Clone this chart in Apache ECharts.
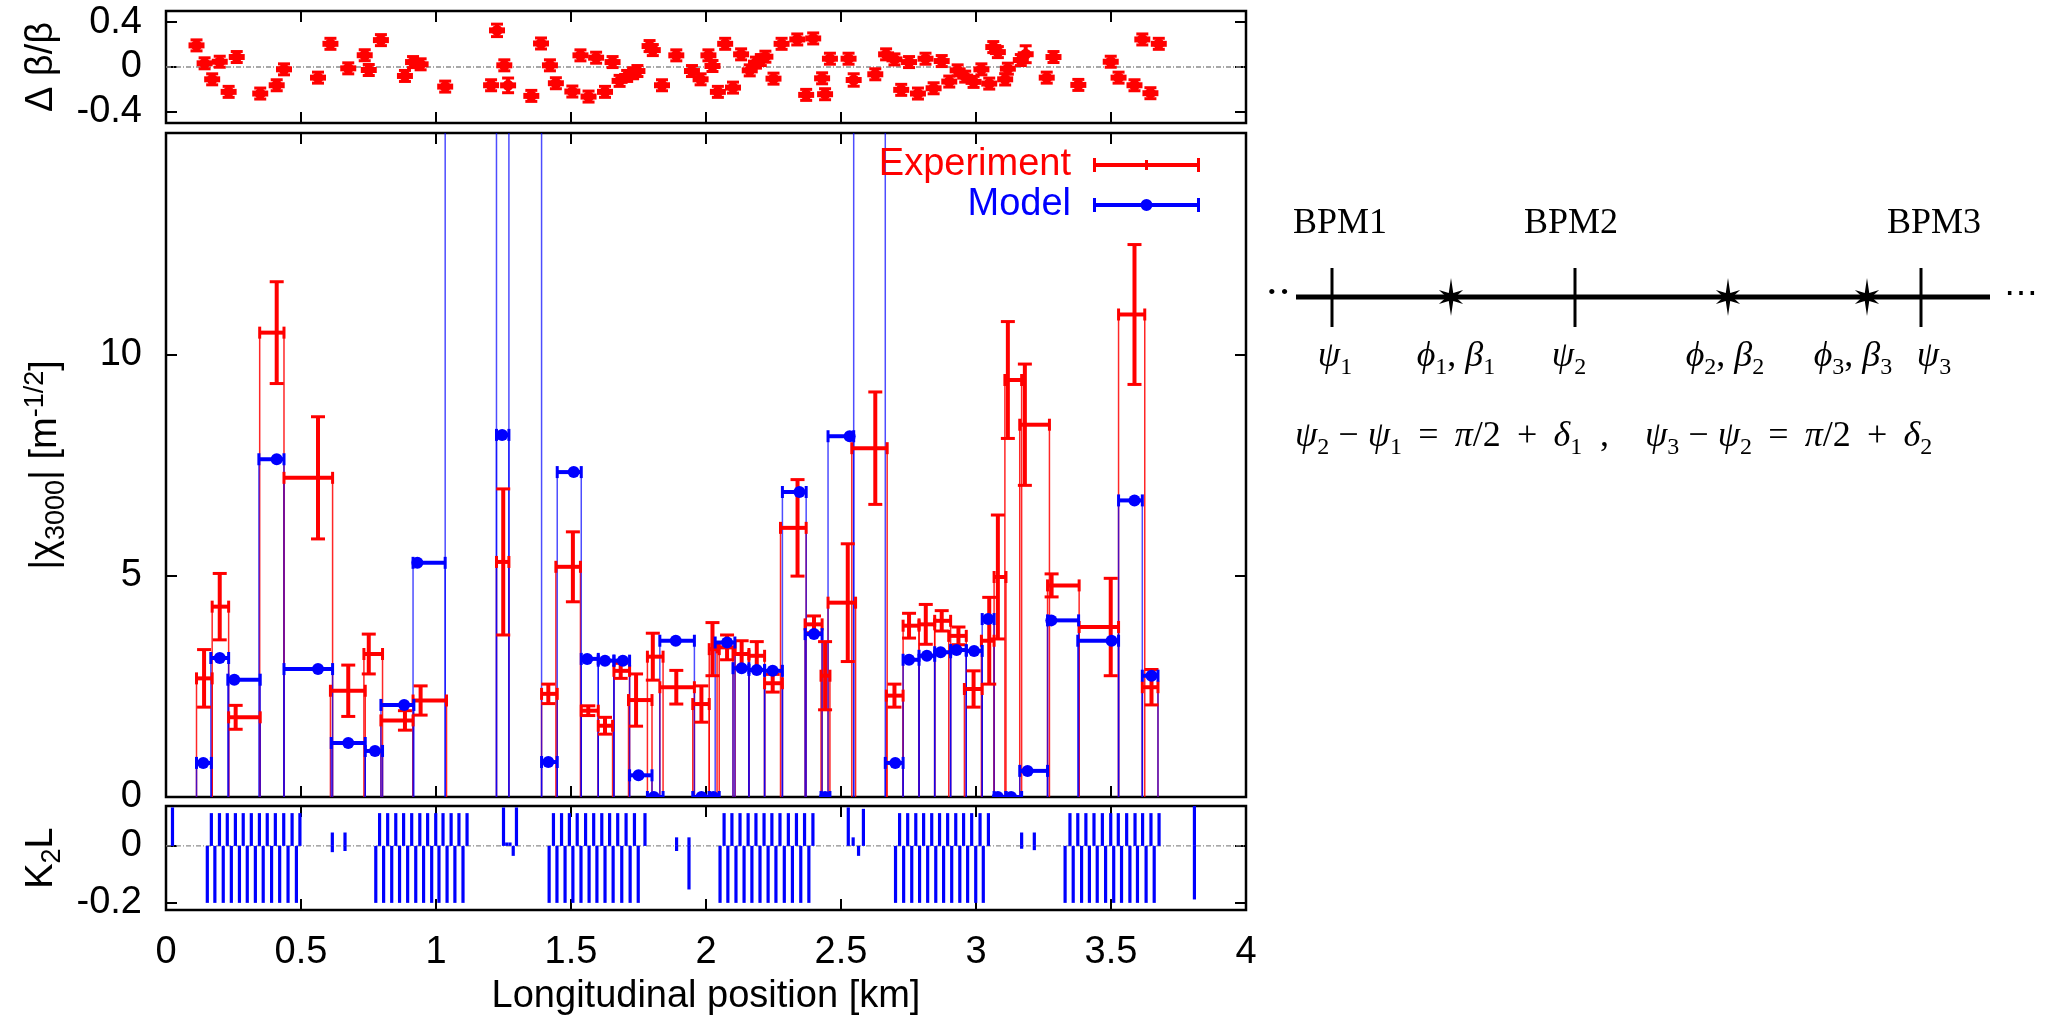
<!DOCTYPE html>
<html>
<head>
<meta charset="utf-8">
<script src="https://cdn.jsdelivr.net/npm/echarts@6/dist/echarts.min.js"></script>
<style>
  html, body { margin: 0; padding: 0; background: #ffffff; }
  #chart { width: 2050px; height: 1018px; }
</style>
</head>
<body>
<div id="chart"></div>
<script>
// ---------- Beta beating at the BPMs (top panel) ----------
const betaPos = [0.113,0.143,0.171,0.199,0.232,0.262,0.349,0.410,0.437,0.563,
  0.609,0.675,0.736,0.751,0.796,0.885,0.915,0.943,1.034,1.204,
  1.226,1.253,1.267,1.353,1.389,1.422,1.444,1.505,1.535,1.565,
  1.593,1.626,1.654,1.680,1.708,1.730,1.746,1.791,1.803,1.837,
  1.890,1.948,1.980,2.009,2.024,2.044,2.071,2.100,2.130,2.162,
  2.185,2.203,2.220,2.250,2.280,2.338,2.371,2.397,2.430,2.441,
  2.459,2.528,2.547,2.627,2.667,2.698,2.723,2.752,2.785,2.813,
  2.843,2.873,2.901,2.932,2.960,2.991,3.020,3.049,3.064,3.081,
  3.108,3.118,3.166,3.184,3.262,3.287,3.379,3.499,3.528,3.587,
  3.616,3.646,3.677];
const betaVal = [0.193,0.033,-0.110,0.047,-0.222,0.089,-0.237,-0.163,-0.021,-0.095,
  0.207,-0.012,0.105,-0.027,0.240,-0.080,0.044,0.024,-0.175,-0.163,
  0.327,0.015,-0.164,-0.258,0.210,0.015,-0.145,-0.219,0.104,-0.264,
  0.083,-0.222,0.044,-0.124,-0.080,-0.056,-0.036,0.187,0.151,-0.163,
  0.104,-0.036,-0.110,0.104,0.009,-0.222,0.207,-0.184,0.113,-0.030,
  0.039,0.062,0.092,-0.104,0.207,0.246,-0.249,0.255,-0.101,-0.243,
  0.074,0.074,-0.116,-0.065,0.113,0.068,-0.204,0.044,-0.237,0.074,
  -0.190,0.053,-0.130,-0.030,-0.086,-0.133,-0.021,-0.148,0.178,0.133,
  -0.110,-0.015,0.062,0.114,-0.095,0.089,-0.160,0.047,-0.095,-0.163,
  0.246,-0.234,0.207];
const betaErr = [0.02,0.02,0.02,0.02,0.02,0.02,0.02,0.02,0.02,0.02,
  0.02,0.02,0.052,0.02,0.02,0.02,0.02,0.02,0.02,0.02,
  0.06,0.02,0.07,0.02,0.02,0.02,0.02,0.02,0.02,0.02,
  0.02,0.02,0.02,0.02,0.02,0.02,0.02,0.02,0.02,0.02,
  0.02,0.02,0.02,0.02,0.02,0.02,0.02,0.02,0.02,0.02,
  0.02,0.02,0.02,0.02,0.02,0.02,0.02,0.02,0.02,0.02,
  0.02,0.02,0.06,0.02,0.02,0.02,0.02,0.02,0.02,0.02,
  0.02,0.02,0.02,0.02,0.02,0.02,0.02,0.02,0.02,0.02,
  0.055,0.02,0.02,0.08,0.02,0.02,0.02,0.02,0.02,0.02,
  0.02,0.02,0.02];

// ---------- |chi_3000| per BPM interval (middle panel) ----------
// measurement: interval start/end, sextupole position, value, error
const expLo  = [0.113,0.171,0.232,0.347,0.437,0.609,0.733,0.796,0.915,1.224,
  1.391,1.444,1.538,1.601,1.659,1.713,1.783,1.829,1.951,2.012,
  2.041,2.100,2.159,2.217,2.276,2.367,2.426,2.452,2.540,2.668,
  2.730,2.789,2.847,2.899,2.957,3.020,3.067,3.107,3.162,3.265,
  3.382,3.528,3.616];
const expHi  = [0.171,0.232,0.349,0.437,0.617,0.738,0.802,0.915,1.039,1.270,
  1.449,1.535,1.601,1.654,1.717,1.800,1.841,1.957,2.012,2.049,
  2.108,2.159,2.217,2.283,2.371,2.430,2.459,2.554,2.671,2.730,
  2.789,2.847,2.906,2.964,3.023,3.067,3.111,3.169,3.272,3.382,
  3.528,3.625,3.674];
const expAt  = [0.141,0.199,0.258,0.410,0.563,0.675,0.751,0.885,0.943,1.249,
  1.416,1.507,1.564,1.626,1.684,1.741,1.803,1.890,1.983,2.024,
  2.078,2.132,2.188,2.247,2.339,2.400,2.441,2.525,2.627,2.698,
  2.752,2.814,2.873,2.935,2.991,3.049,3.081,3.118,3.181,3.280,
  3.499,3.587,3.650];
const expVal = [2.68,4.30,1.80,10.49,7.21,2.40,3.23,1.73,2.18,5.31,
  2.33,5.20,1.95,1.61,2.85,2.19,3.17,2.48,2.10,3.34,
  3.38,3.23,3.19,2.57,6.08,3.90,2.74,4.39,7.88,2.29,
  3.87,3.90,3.98,3.64,2.44,3.53,4.97,9.42,8.41,4.78,
  3.84,10.90,2.48];
const expErr = [0.65,0.75,0.27,1.15,1.38,0.58,0.45,0.22,0.33,1.65,
  0.22,0.79,0.11,0.19,0.17,0.59,0.53,0.38,0.41,0.60,
  0.28,0.30,0.32,0.20,1.09,0.19,0.77,1.33,1.27,0.26,
  0.28,0.45,0.23,0.20,0.41,0.98,1.40,1.32,1.37,0.26,
  1.10,1.58,0.40];

// model: interval start/end, sextupole position, value (17 = beyond the frame)
const modLo  = [0.113,0.166,0.229,0.344,0.437,0.612,0.738,0.796,0.915,1.034,
  1.224,1.270,1.391,1.449,1.538,1.601,1.659,1.717,1.783,1.829,
  1.951,2.012,2.034,2.100,2.159,2.217,2.283,2.367,2.426,2.452,
  2.547,2.664,2.730,2.789,2.847,2.906,2.964,3.023,3.067,3.111,
  3.162,3.265,3.377,3.528,3.616];
const modHi  = [0.168,0.232,0.349,0.437,0.617,0.738,0.802,0.918,1.034,1.224,
  1.270,1.391,1.449,1.538,1.601,1.659,1.717,1.800,1.841,1.957,
  2.012,2.049,2.107,2.159,2.217,2.283,2.371,2.430,2.459,2.547,
  2.664,2.730,2.789,2.847,2.906,2.964,3.023,3.067,3.111,3.169,
  3.265,3.380,3.528,3.616,3.674];
const modAt  = [0.138,0.199,0.253,0.410,0.563,0.675,0.774,0.882,0.931,1.205,
  1.245,1.350,1.416,1.510,1.560,1.626,1.692,1.750,1.807,1.888,
  1.983,2.027,2.078,2.132,2.188,2.247,2.346,2.400,2.441,2.532,
  2.620,2.701,2.752,2.818,2.869,2.928,2.993,3.045,3.081,3.130,
  3.191,3.279,3.502,3.587,3.650];
const modVal = [0.77,3.14,2.65,7.63,2.89,1.22,1.04,2.08,5.29,17.0,
  8.18,17.0,0.79,7.34,3.12,3.08,3.08,0.49,0.00,3.53,
  0.00,0.00,3.49,2.91,2.87,2.85,6.89,3.68,0.00,8.15,
  17.0,0.77,3.10,3.19,3.27,3.32,3.30,4.02,0.00,0.00,
  0.59,3.99,3.53,6.70,2.74];

// ---------- Sextupole strengths K2L (bottom panel) ----------
const k2lFocusing = 0.115;
const k2lDefocusing = -0.20;
const k2lPosF = [0.168,0.198,0.227,0.257,0.286,0.316,0.346,0.375,0.405,0.436,0.467,0.496,
  0.791,0.821,0.851,0.880,0.910,0.940,0.969,0.999,1.026,1.056,1.085,1.115,
  1.435,1.465,1.494,1.523,1.554,1.584,1.614,1.643,1.673,1.704,1.735,1.774,
  2.067,2.096,2.126,2.156,2.185,2.215,2.244,2.274,2.305,2.335,2.365,2.396,
  2.717,2.747,2.777,2.806,2.836,2.865,2.895,2.925,2.954,2.984,3.015,3.046,
  3.348,3.377,3.407,3.437,3.468,3.499,3.527,3.558,3.589,3.617,3.648,3.678];
const k2lPosD = [0.153,0.181,0.212,0.242,0.272,0.301,0.331,0.360,0.391,0.421,0.452,0.483,
  0.777,0.806,0.836,0.865,0.895,0.925,0.954,0.984,1.011,1.041,1.070,1.100,
  1.419,1.448,1.478,1.507,1.537,1.567,1.596,1.626,1.656,1.688,1.719,1.749,
  2.052,2.081,2.111,2.141,2.170,2.200,2.230,2.259,2.290,2.320,2.351,2.381,
  2.702,2.732,2.762,2.791,2.821,2.851,2.880,2.910,2.940,2.969,2.999,3.027,
  3.330,3.360,3.391,3.420,3.449,3.480,3.510,3.539,3.570,3.598,3.630,3.660];
const k2lOtherPos = [0.024,0.616,0.616,0.663,0.663,1.250,1.262,1.274,1.286,1.298,
  1.891,1.891,1.937,1.937,2.527,2.545,2.565,2.583,3.169,3.169,3.216,3.216,3.809,3.809];
const k2lOtherVal = [0.135,0.047,-0.022,0.047,-0.018,0.135,0.012,0.012,-0.035,0.135,
  0.030,-0.018,0.030,-0.153,0.135,0.030,-0.035,0.130,0.047,-0.010,0.047,-0.015,0.140,-0.188];

// ---------- tick labels ----------
const xTicks = [0, 0.5, 1, 1.5, 2, 2.5, 3, 3.5, 4];
const betaTicks = [-0.4, 0, 0.4];
const chiTicks = [0, 5, 10];
const k2lTicks = [-0.2, 0];

const RED = '#ff0000';
const BLUE = '#0000ff';
const SANS = 'Liberation Sans, Arial, Helvetica, sans-serif';
const SERIF = 'Liberation Serif, Times New Roman, serif';
const CHI_MAX = 15;

// ---------- render helpers ----------
function vline(x, y1, y2, color, w, op) {
  return { type: 'line', shape: { x1: x, y1: y1, x2: x, y2: y2 },
           style: { stroke: color, lineWidth: w, opacity: op == null ? 1 : op } };
}
function hline(x1, x2, y, color, w) {
  return { type: 'line', shape: { x1: x1, y1: y, x2: x2, y2: y }, style: { stroke: color, lineWidth: w } };
}

function renderBeta(params, api) {
  const x = api.value(0), y = api.value(1), e = api.value(2);
  const c = api.coord([x, y]);
  const t = api.coord([x, y + e])[1];
  const b = api.coord([x, y - e])[1];
  const top = Math.min(t, c[1] - 6), bot = Math.max(b, c[1] + 6);
  return { type: 'group', children: [
    { type: 'rect', shape: { x: c[0] - 8, y: c[1] - 3, width: 16, height: 6 }, style: { fill: RED } },
    { type: 'rect', shape: { x: c[0] - 2, y: top, width: 4, height: bot - top }, style: { fill: RED } },
    { type: 'rect', shape: { x: c[0] - 6, y: top - 1, width: 12, height: 3 }, style: { fill: RED } },
    { type: 'rect', shape: { x: c[0] - 6, y: bot - 2, width: 12, height: 3 }, style: { fill: RED } },
    { type: 'circle', shape: { cx: c[0], cy: c[1], r: 5.5 }, style: { fill: RED } }
  ] };
}

function makeStems(color, opacity) {
  return function (params, api) {
    const lo = api.value(0), hi = api.value(1);
    const v = Math.min(api.value(2), CHI_MAX + 0.5);
    const p0 = api.coord([lo, 0]), p1 = api.coord([hi, v]);
    const base = p0[1];
    return { type: 'group', children: [
      vline(p0[0], base, p1[1], color, 1.5, opacity),
      vline(p1[0], base, p1[1], color, 1.5, opacity)
    ] };
  };
}

function renderExp(params, api) {
  const lo = api.value(0), hi = api.value(1), at = api.value(2), v = api.value(3), e = api.value(4);
  const pl = api.coord([lo, v]), pr = api.coord([hi, v]);
  const pt = api.coord([at, v + e]), pb = api.coord([at, v - e]);
  const y = pl[1];
  return { type: 'group', children: [
    hline(pl[0], pr[0], y, RED, 4),
    vline(pl[0], y - 6, y + 6, RED, 3),
    vline(pr[0], y - 6, y + 6, RED, 3),
    vline(pt[0], pt[1], pb[1], RED, 4),
    hline(pt[0] - 7, pt[0] + 7, pt[1], RED, 3),
    hline(pb[0] - 7, pb[0] + 7, pb[1], RED, 3)
  ] };
}

function renderModel(params, api) {
  const lo = api.value(0), hi = api.value(1), at = api.value(2), v = api.value(3);
  const pl = api.coord([lo, v]), pr = api.coord([hi, v]), pc = api.coord([at, v]);
  const y = pl[1];
  return { type: 'group', children: [
    hline(pl[0], pr[0], y, BLUE, 4),
    vline(pl[0], y - 6, y + 6, BLUE, 3),
    vline(pr[0], y - 6, y + 6, BLUE, 3),
    { type: 'circle', shape: { cx: pc[0], cy: y, r: 6 }, style: { fill: BLUE } }
  ] };
}

function renderK2L(params, api) {
  const x = api.value(0), v = api.value(1);
  const p0 = api.coord([x, 0]), p1 = api.coord([x, v]);
  return { type: 'rect',
           shape: { x: p0[0] - 1.6, y: Math.min(p0[1], p1[1]), width: 3.2, height: Math.abs(p1[1] - p0[1]) },
           style: { fill: BLUE } };
}

// ---------- series data built from the arrays ----------
const betaData = betaPos.map((x, i) => [x, betaVal[i], betaErr[i]]);
const expData = expLo.map((lo, i) => [lo, expHi[i], expAt[i], expVal[i], expErr[i]]);
const expStemData = expLo.map((lo, i) => [lo, expHi[i], expVal[i]]);
const modData = modLo.map((lo, i) => [lo, modHi[i], modAt[i], modVal[i]]);
const modStemData = modLo.map((lo, i) => [lo, modHi[i], modVal[i]]);
const k2lData = k2lPosF.map(x => [x, k2lFocusing])
  .concat(k2lPosD.map(x => [x, k2lDefocusing]))
  .concat(k2lOtherPos.map((x, i) => [x, k2lOtherVal[i]]));

// ---------- axes ----------
const tickStyle = { color: '#000', width: 2 };
const labelFont = { color: '#000', fontSize: 38, fontFamily: SANS };

function xAxisFor(grid, position, withLabels) {
  const ax = {
    type: 'value', gridIndex: grid, position: position, min: 0, max: 4, interval: 0.5,
    axisLine: { show: false, onZero: false }, splitLine: { show: false },
    axisTick: { show: true, inside: true, length: 11, lineStyle: tickStyle, customValues: xTicks },
    axisLabel: Object.assign({ show: withLabels, margin: 24, customValues: xTicks }, labelFont)
  };
  if (withLabels) {
    ax.name = 'Longitudinal position [km]';
    ax.nameLocation = 'middle';
    ax.nameGap = 68;
    ax.nameTextStyle = { color: '#000', fontSize: 38, fontFamily: SANS };
  }
  return ax;
}

function yAxisFor(grid, position, min, max, ticks, name, nameStyle, withLabels) {
  const ax = {
    type: 'value', gridIndex: grid, position: position, min: min, max: max,
    axisLine: { show: false, onZero: false }, splitLine: { show: false },
    axisTick: { show: true, inside: true, length: 11, lineStyle: tickStyle, customValues: ticks },
    axisLabel: Object.assign({ show: withLabels, margin: 24, customValues: ticks,
      formatter: v => String(Math.round(v * 10) / 10) }, labelFont)
  };
  if (name) {
    ax.name = name;
    ax.nameLocation = 'middle';
    ax.nameRotate = 90;
    ax.nameGap = 96;
    ax.nameTextStyle = nameStyle;
  }
  return ax;
}

const subStyle = { fontSize: 27, lineHeight: 27, verticalAlign: 'bottom', fontFamily: SANS, color: '#000' };
const supStyle = { fontSize: 27, lineHeight: 27, verticalAlign: 'top', fontFamily: SANS, color: '#000' };
const yNameStyle = { color: '#000', fontSize: 38, lineHeight: 48, fontFamily: SANS,
                     rich: { sub: subStyle, sup: supStyle } };

// ---------- diagram of the BPM / sextupole layout ----------
function starPoints(cx, cy) {
  const arms = [[-90, 19], [-30, 14], [30, 14], [90, 19], [150, 14], [210, 14]];
  const pts = [];
  arms.forEach(a => {
    const t = a[0] * Math.PI / 180, t2 = (a[0] + 30) * Math.PI / 180;
    pts.push([cx + a[1] * Math.cos(t), cy + a[1] * Math.sin(t)]);
    pts.push([cx + 4.5 * Math.cos(t2), cy + 4.5 * Math.sin(t2)]);
  });
  return pts;
}
const greek = { g: { fontFamily: SERIF, fontStyle: 'italic', fontSize: 36, lineHeight: 46, fill: '#000' },
                n: { fontFamily: SERIF, fontSize: 36, lineHeight: 46, fill: '#000' },
                s: { fontFamily: SERIF, fontSize: 24, lineHeight: 24, verticalAlign: 'bottom', fill: '#000' } };
function mathText(x, y, text, align) {
  return { type: 'text', x: x, y: y, silent: true,
           style: { text: text, rich: greek, align: align || 'center', verticalAlign: 'middle',
                    fontFamily: SERIF, fontSize: 36, fill: '#000' } };
}
const lineY = 297;
const diagram = [
  { type: 'line', shape: { x1: 1296, y1: lineY, x2: 1990, y2: lineY }, style: { stroke: '#000', lineWidth: 5 } },
  { type: 'line', shape: { x1: 1332, y1: 268, x2: 1332, y2: 327 }, style: { stroke: '#000', lineWidth: 3 } },
  { type: 'line', shape: { x1: 1575, y1: 268, x2: 1575, y2: 327 }, style: { stroke: '#000', lineWidth: 3 } },
  { type: 'line', shape: { x1: 1921, y1: 268, x2: 1921, y2: 327 }, style: { stroke: '#000', lineWidth: 3 } },
  { type: 'polygon', shape: { points: starPoints(1451, lineY) }, style: { fill: '#000' } },
  { type: 'polygon', shape: { points: starPoints(1728, lineY) }, style: { fill: '#000' } },
  { type: 'polygon', shape: { points: starPoints(1867, lineY) }, style: { fill: '#000' } },
  { type: 'text', x: 1291, y: lineY - 2, style: { text: '··', fontFamily: 'DejaVu Serif', fontSize: 40, fill: '#000', align: 'right', verticalAlign: 'middle' } },
  { type: 'text', x: 2004, y: lineY - 2, style: { text: '⋯', fontFamily: 'DejaVu Serif', fontSize: 34, fill: '#000', align: 'left', verticalAlign: 'middle' } },
  { type: 'text', x: 1340, y: 224, style: { text: 'BPM1', fontFamily: SERIF, fontSize: 36, fill: '#000', align: 'center', verticalAlign: 'middle' } },
  { type: 'text', x: 1571, y: 224, style: { text: 'BPM2', fontFamily: SERIF, fontSize: 36, fill: '#000', align: 'center', verticalAlign: 'middle' } },
  { type: 'text', x: 1934, y: 224, style: { text: 'BPM3', fontFamily: SERIF, fontSize: 36, fill: '#000', align: 'center', verticalAlign: 'middle' } },
  mathText(1335, 357, '{g|ψ}{s|1}'),
  mathText(1456, 357, '{g|ϕ}{s|1}{n|, }{g|β}{s|1}'),
  mathText(1569, 357, '{g|ψ}{s|2}'),
  mathText(1725, 357, '{g|ϕ}{s|2}{n|, }{g|β}{s|2}'),
  mathText(1853, 357, '{g|ϕ}{s|3}{n|, }{g|β}{s|3}'),
  mathText(1934, 357, '{g|ψ}{s|3}'),
  mathText(1295, 437, '{g|ψ}{s|2}{n| − }{g|ψ}{s|1}{n|\u2009 = \u2009}{g|π}{n|/2\u2009 + \u2009}{g|δ}{s|1}', 'left'),
  mathText(1600, 437, '{n|,}', 'left'),
  mathText(1645, 437, '{g|ψ}{s|3}{n| − }{g|ψ}{s|2}{n|\u2009 = \u2009}{g|π}{n|/2\u2009 + \u2009}{g|δ}{s|2}', 'left')
];

// ---------- legend icons (error bar samples) ----------
const expIcon = 'path://M0,5L107,5L107,9L0,9Z M0,0L3,0L3,14L0,14Z M104,0L107,0L107,14L104,14Z M52,2L55,2L55,12L52,12Z';
const modIcon = 'path://M0,5L107,5L107,9L0,9Z M0,0L3,0L3,14L0,14Z M104,0L107,0L107,14L104,14Z M47.5,7A6,6 0 1 1 59.5,7A6,6 0 1 1 47.5,7Z';

const gridBox = { show: true, borderColor: '#000', borderWidth: 2.5, backgroundColor: 'transparent', left: 166, width: 1080 };

const option = {
  animation: false,
  backgroundColor: '#ffffff',
  grid: [
    Object.assign({ top: 11, height: 112 }, gridBox),
    Object.assign({ top: 133, height: 664 }, gridBox),
    Object.assign({ top: 806, height: 104 }, gridBox)
  ],
  xAxis: [
    xAxisFor(0, 'bottom', false), xAxisFor(0, 'top', false),
    xAxisFor(1, 'bottom', false), xAxisFor(1, 'top', false),
    xAxisFor(2, 'bottom', true),  xAxisFor(2, 'top', false)
  ],
  yAxis: [
    yAxisFor(0, 'left', -0.5, 0.5, betaTicks, 'Δ β/β', yNameStyle, true),
    yAxisFor(0, 'right', -0.5, 0.5, betaTicks, null, null, false),
    yAxisFor(1, 'left', 0, CHI_MAX, chiTicks, '|χ{sub|3000}| [m{sup|-1/2}]', yNameStyle, true),
    yAxisFor(1, 'right', 0, CHI_MAX, chiTicks, null, null, false),
    yAxisFor(2, 'left', -0.225, 0.14, k2lTicks, 'K{sub|2}L', yNameStyle, true),
    yAxisFor(2, 'right', -0.225, 0.14, k2lTicks, null, null, false)
  ],
  legend: {
    orient: 'vertical', right: 850, top: 145, align: 'right', padding: 0,
    itemWidth: 107, itemHeight: 14, itemGap: 0, selectedMode: false,
    textStyle: { fontSize: 38, fontFamily: SANS, lineHeight: 40, padding: [0, 17, 0, 0] },
    data: [
      { name: 'Experiment', icon: expIcon, textStyle: { color: RED } },
      { name: 'Model', icon: modIcon, textStyle: { color: BLUE } }
    ]
  },
  graphic: diagram,
  series: [
    { type: 'line', xAxisIndex: 0, yAxisIndex: 0, data: [[0, 0], [4, 0]], symbol: 'none', silent: true,
      lineStyle: { color: '#8c8c8c', width: 1.3, type: [5, 2, 1, 2] }, z: 1 },
    { type: 'custom', name: 'beta', xAxisIndex: 0, yAxisIndex: 0, data: betaData, renderItem: renderBeta,
      clip: true, silent: true, z: 3 },
    { type: 'custom', name: 'expStems', xAxisIndex: 2, yAxisIndex: 2, data: expStemData,
      renderItem: makeStems(RED, 0.85), clip: true, silent: true, z: 2 },
    { type: 'custom', name: 'modStems', xAxisIndex: 2, yAxisIndex: 2, data: modStemData,
      renderItem: makeStems(BLUE, 0.7), clip: true, silent: true, z: 2 },
    { type: 'custom', name: 'Experiment', xAxisIndex: 2, yAxisIndex: 2, data: expData, renderItem: renderExp,
      itemStyle: { color: RED }, clip: true, silent: true, z: 3 },
    { type: 'custom', name: 'Model', xAxisIndex: 2, yAxisIndex: 2, data: modData, renderItem: renderModel,
      itemStyle: { color: BLUE }, clip: true, silent: true, z: 4 },
    { type: 'line', xAxisIndex: 4, yAxisIndex: 4, data: [[0, 0], [4, 0]], symbol: 'none', silent: true,
      lineStyle: { color: '#8c8c8c', width: 1.3, type: [5, 2, 1, 2] }, z: 1 },
    { type: 'custom', name: 'K2L', xAxisIndex: 4, yAxisIndex: 4, data: k2lData, renderItem: renderK2L,
      clip: true, silent: true, z: 3 }
  ]
};

const chart = echarts.init(document.getElementById('chart'));
chart.setOption(option);
</script>
</body>
</html>
